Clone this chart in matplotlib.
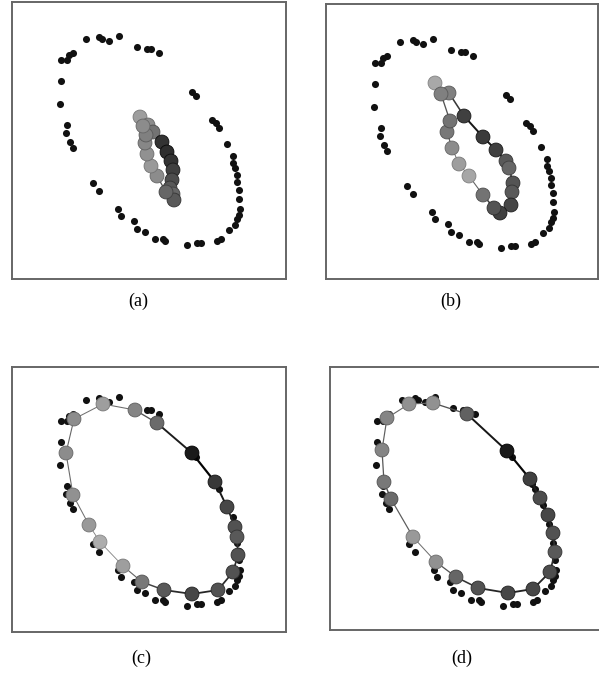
import numpy as np
import matplotlib
matplotlib.use("Agg")
import matplotlib.pyplot as plt

# data points (same sample in every panel), y grows downward
pts_x = [74, 87, 90, 97, 107, 125, 135, 139, 147, 49, 55, 57, 61, 49, 48, 55, 54, 58, 61,
         81, 87, 106, 109, 122, 125, 133, 143, 151, 153, 175, 185, 189, 205, 209, 217, 223,
         225, 227, 228, 227, 227, 225, 225, 223, 221, 221, 215, 207, 204, 200, 180, 184]
pts_y = [37, 35, 37, 39, 34, 45, 47, 47, 51, 58, 58, 53, 51, 79, 102, 123, 131, 140, 146,
         181, 189, 207, 214, 219, 227, 230, 237, 237, 239, 243, 241, 241, 239, 237, 228, 223,
         217, 213, 207, 197, 188, 180, 173, 166, 161, 154, 142, 126, 121, 118, 90, 94]

# ring of nodes at four stages, with grey level of each node
a_x = [128, 136, 141, 150, 155, 159, 161, 160, 158, 161, 162, 154, 145, 139, 135, 133, 134, 131]
a_y = [115, 123, 130, 140, 150, 159, 168, 178, 186, 192, 198, 190, 174, 164, 152, 141, 133, 124]
a_g = [.62, .55, .45, .20, .18, .20, .25, .30, .35, .40, .35, .40, .55, .60, .57, .53, .50, .55]

b_x = [109, 123, 138, 157, 170, 180, 183, 187, 186, 185, 174, 168, 157, 143, 133, 126, 121, 124, 115]
b_y = [78, 88, 111, 132, 145, 156, 163, 178, 187, 200, 208, 203, 190, 171, 159, 143, 127, 116, 89]
b_g = [.66, .50, .25, .23, .25, .35, .40, .33, .35, .27, .25, .33, .45, .65, .62, .55, .47, .45, .50]

c_x = [62, 91, 123, 145, 180, 203, 215, 223, 225, 226, 221, 206, 180, 152, 130, 111, 88, 77, 61, 54]
c_y = [56, 41, 47, 60, 90, 119, 144, 164, 174, 192, 209, 227, 231, 227, 219, 203, 179, 162, 132, 90]
c_g = [.55, .62, .52, .42, .10, .22, .28, .32, .35, .32, .32, .32, .28, .35, .47, .62, .68, .60, .57, .55]

d_x = [59, 81, 105, 139, 179, 202, 212, 220, 225, 227, 222, 205, 180, 150, 128, 108, 85, 63, 56, 54]
d_y = [55, 41, 40, 51, 88, 116, 135, 152, 170, 189, 209, 226, 230, 225, 214, 199, 174, 136, 119, 87]
d_g = [.52, .57, .57, .38, .10, .25, .30, .28, .32, .35, .30, .28, .28, .32, .40, .57, .60, .42, .47, .52]

labels = ['(a)', '(b)', '(c)', '(d)']

fig = plt.figure(figsize=(5.99, 6.74), dpi=100)

panels = [
    # rect, xlim, ylim, nodes, label pos
    ([12/599, 1-279/674, 274/599, 277/674], (0, 274), (277, 0), (a_x, a_y, a_g), (138/599, 1-301/674)),
    ([326/599, 1-279/674, 272/599, 275/674], (0, 272), (274, -1), (b_x, b_y, b_g), (451/599, 1-301/674)),
    ([12/599, 1-632/674, 274/599, 265/674], (0, 274), (269, 4), (c_x, c_y, c_g), (141/599, 1-658/674)),
    ([330/599, 1-630/674, 270/599, 263/674], (2, 272), (267, 4), (d_x, d_y, d_g), (462/599, 1-658/674)),
]

for (rect, xl, yl, nodes, lpos), lab in zip(panels, labels):
    ax = fig.add_axes(rect)
    ax.scatter(pts_x, pts_y, s=26, color='#111111', linewidths=0, zorder=2)
    nx, ny, ng = nodes
    n = len(nx)
    for i in range(n):
        j = (i + 1) % n
        g = (ng[i] + ng[j]) / 2
        ax.plot([nx[i], nx[j]], [ny[i], ny[j]], color=str(max(g - 0.15, 0)),
                lw=0.5 + 2.0 * (0.7 - g), solid_capstyle='round', zorder=3)
    ax.scatter(nx, ny, s=100, c=[str(g) for g in ng], edgecolors=[str(max(g - 0.15, 0)) for g in ng],
               linewidths=0.6, zorder=4)
    ax.set_xlim(*xl)
    ax.set_ylim(*yl)
    ax.set_xticks([])
    ax.set_yticks([])
    for sp in ax.spines.values():
        sp.set_color('#666666')
        sp.set_linewidth(1.4)
    fig.text(lpos[0], lpos[1], lab, ha='center', va='center',
             fontsize=13, family='Liberation Serif')

fig.savefig('out.png', dpi=100)
